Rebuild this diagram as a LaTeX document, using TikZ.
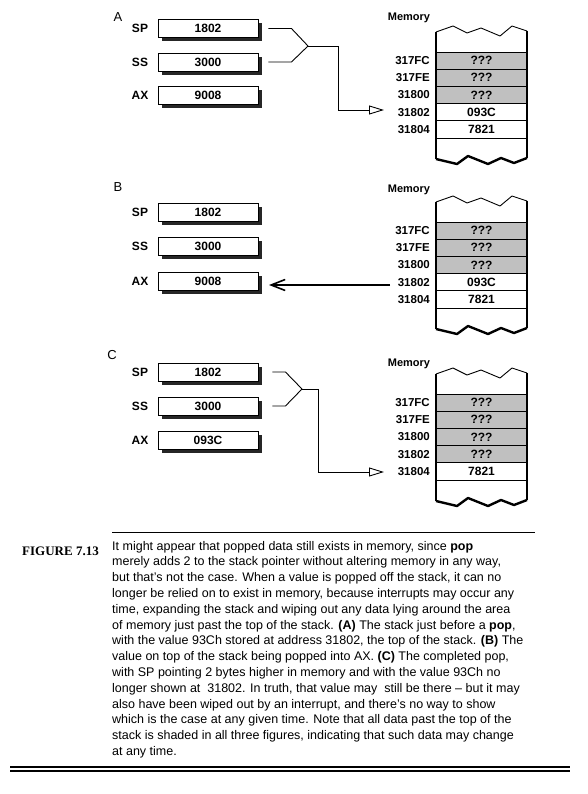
\documentclass[tikz,border=0pt]{standalone}
\usepackage{fontspec}
\setmainfont{Liberation Sans}
\newfontfamily\figserif{Liberation Serif}
\usetikzlibrary{arrows.meta,shadows}
\definecolor{cellgray}{RGB}{192,192,192}
\newcommand\MemCol[4]{%
 \begin{scope}[shift={(0,#2)}]
  \node[cell,fill=cellgray] (#1c1) at (481.5,60.6) {???};
  \node[cell,fill=cellgray] (#1c2) at (481.5,77.8) {???};
  \node[cell,fill=cellgray] (#1c3) at (481.5,95) {???};
  \node[cell,fill=#4] (#1c4) at (481.5,112.2) {#3};
  \node[cell] (#1c5) at (481.5,129.4) {7821};
  \node[addr] (#1a1) at (431,60.6) {317FC};
  \node[addr] (#1a2) at (431,77.8) {317FE};
  \node[addr] (#1a3) at (431,95) {31800};
  \node[addr] (#1a4) at (431,112.2) {31802};
  \node[addr] (#1a5) at (431,129.4) {31804};
  \draw[wavetop] (436,32) -- (453,26) -- (467,33) -- (481,28) -- (500,36) -- (512,26) -- (527,31);
  \draw[side] (436,32) -- (436,159);
  \draw[side] (527,31) -- (527,158);
  \draw[wavebot] (436,159) -- (457,164) -- (468,156) -- (488,164) -- (501,158) -- (514,163) -- (527,158);
 \end{scope}}
\newcommand\RegSet[5]{%
  \node[reglbl] (#1lsp) at (140,#2) {SP};
  \node[reglbl] (#1lss) at (140,#3) {SS};
  \node[reglbl] (#1lax) at (140,#4) {AX};
  \node[reg] (#1sp) at (208,#2) {1802};
  \node[reg] (#1ss) at (208,#3) {3000};
  \node[reg] (#1ax) at (208,#4) {#5};}
\begin{document}
\begin{tikzpicture}[x=1pt,y=-1pt,
  reg/.style={draw=black,fill=white,line width=0.9pt,minimum width=100pt,minimum height=18pt,inner sep=0pt,
    font=\bfseries\fontsize{12}{12}\selectfont,
    drop shadow={shadow xshift=4pt,shadow yshift=-4pt,fill=black!85,opacity=1,draw=none}},
  reglbl/.style={inner sep=0pt,font=\bfseries\fontsize{12}{12}\selectfont},
  cell/.style={draw=black,line width=0.8pt,minimum width=91pt,minimum height=17.2pt,inner sep=0pt,
    font=\bfseries\fontsize{12}{12}\selectfont},
  addr/.style={anchor=east,inner sep=1pt,font=\bfseries\fontsize{11.5}{11.5}\selectfont},
  memlbl/.style={inner sep=0pt,font=\bfseries\fontsize{11}{11}\selectfont},
  panel/.style={inner sep=0pt,font=\fontsize{13}{13}\selectfont},
  wavetop/.style={line width=0.9pt,line join=round},
  wavebot/.style={line width=2.4pt,line join=round},
  side/.style={line width=1.8pt},
  conn/.style={line width=0.9pt},
  captxt/.style={anchor=base west,inner sep=0pt,font=\fontsize{12.5}{12.5}\selectfont},
]
\useasboundingbox (0,0) rectangle (588,794);
% ---------- panel A
\node[panel] (labA) at (118,17) {A};
\RegSet{A}{28.5}{62}{95}{9008}
\node[memlbl] (Amem) at (409,18) {Memory};
\MemCol{A}{0}{093C}{white}
\coordinate (jA) at (308,46);
\coordinate (tipA) at (384,110);
\draw[conn] ([xshift=10pt]Asp.east) -- ++(23,0) -- (jA);
\draw[conn] ([xshift=10pt]Ass.east) -- ++(23,0) -- (jA);
\draw[conn,-{Triangle[open,length=15pt,width=9pt]}] (jA) -- (338,46) |- (tipA);
% ---------- panel B
\node[panel] (labB) at (118,187) {B};
\RegSet{B}{212.5}{246}{281}{9008}
\node[memlbl] (Bmem) at (409,190) {Memory};
\MemCol{B}{170}{093C}{white}
\coordinate (tailB) at (390,285);
\coordinate (tipB) at (269,285);
\draw[line width=1.6pt,-{Straight Barb[length=14pt,width=11pt]}] (tailB) -- (tipB);
% ---------- panel C
\node[panel] (labC) at (112,355) {C};
\RegSet{C}{372}{406}{440}{093C}
\node[memlbl] (Cmem) at (409,364) {Memory};
\MemCol{C}{342}{???}{cellgray}
\coordinate (jC) at (302,389);
\coordinate (tipC) at (384,472);
\draw[conn] ([xshift=14pt]Csp.east) -- ++(13,0) -- (jC);
\draw[conn] ([xshift=14pt]Css.east) -- ++(13,0) -- (jC);
\draw[conn,-{Triangle[open,length=15pt,width=9pt]}] (jC) -- (318,389) |- (tipC);
% ---------- caption
\draw[line width=0.9pt] (112,532) -- (535,532);
\node[anchor=base west,inner sep=0pt,font=\figserif\bfseries\fontsize{13}{13}\selectfont] (fig) at (22,555) {FIGURE 7.13};
\node[captxt] (l1) at (112,550) {It might appear that popped data still exists in memory, since \textbf{pop}};
\node[captxt] (l2) at (112,565.8) {merely adds 2 to the stack pointer without altering memory in any way,};
\node[captxt] (l3) at (112,581.6) {but that's not the case. When a value is popped off the stack, it can no};
\node[captxt] (l4) at (112,597.4) {longer be relied on to exist in memory, because interrupts may occur any};
\node[captxt] (l5) at (112,613.2) {time, expanding the stack and wiping out any data lying around the area};
\node[captxt] (l6) at (112,629) {of memory just past the top of the stack. \textbf{(A)} The stack just before a \textbf{pop},};
\node[captxt] (l7) at (112,644.8) {with the value 93Ch stored at address 31802, the top of the stack. \textbf{(B)} The};
\node[captxt] (l8) at (112,660.6) {value on top of the stack being popped into AX. \textbf{(C)} The completed pop,};
\node[captxt] (l9) at (112,676.4) {with SP pointing 2 bytes higher in memory and with the value 93Ch no};
\node[captxt] (l10) at (112,692.2) {longer shown at \ 31802. In truth, that value may \ still be there -- but it may};
\node[captxt] (l11) at (112,708) {also have been wiped out by an interrupt, and there's no way to show};
\node[captxt] (l12) at (112,723.8) {which is the case at any given time. Note that all data past the top of the};
\node[captxt] (l13) at (112,739.6) {stack is shaded in all three figures, indicating that such data may change};
\node[captxt] (l14) at (112,755.4) {at any time.};
\draw[line width=1.2pt] (10,767) -- (570,767);
\draw[line width=1.2pt] (10,771) -- (570,771);
\end{tikzpicture}
\end{document}
